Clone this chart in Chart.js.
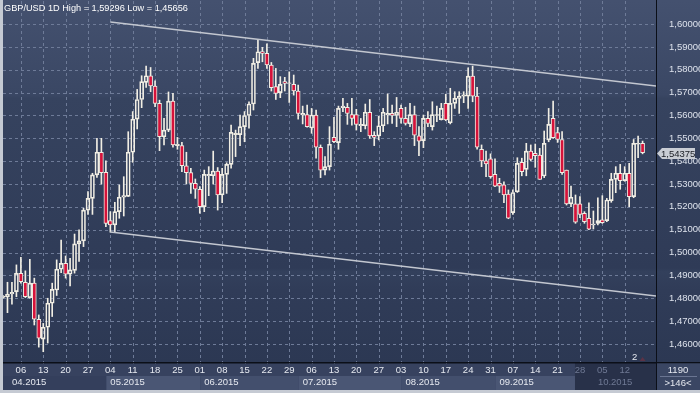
<!DOCTYPE html>
<html>
<head>
<meta charset="utf-8">
<script src="https://cdn.jsdelivr.net/npm/chart.js@4.4.1/dist/chart.umd.min.js"></script>
<style>
html, body { margin: 0; padding: 0; background: #c5cad3; }
canvas { display: block; }
</style>
</head>
<body>
<canvas id="fxChart" width="700" height="393"></canvas>
<script>
// GBP/USD daily candles, 31.03.2015 - 16.10.2015
const firstDay = '2015-03-31';
const open = [
  1.4804, 1.4807, 1.4819, 1.4829, 1.4909, 1.4870, 1.4803, 1.4866, 1.4708, 1.4621,
  1.4673, 1.4778, 1.4836, 1.4927, 1.4953, 1.4905, 1.4922, 1.5038, 1.5051, 1.5186,
  1.5237, 1.5340, 1.5439, 1.5351, 1.5140, 1.5121, 1.5179, 1.5242, 1.5246, 1.5439,
  1.5584, 1.5670, 1.5745, 1.5774, 1.5729, 1.5653, 1.5507, 1.5536, 1.5663, 1.5468,
  1.5468, 1.5380, 1.5350, 1.5303, 1.5277, 1.5201, 1.5336, 1.5336, 1.5357, 1.5252,
  1.5342, 1.5386, 1.5516, 1.5516, 1.5551, 1.5600, 1.5650, 1.5831, 1.5880, 1.5872,
  1.5821, 1.5726, 1.5700, 1.5748, 1.5740, 1.5736, 1.5707, 1.5602, 1.5604, 1.5545,
  1.5602, 1.5461, 1.5361, 1.5376, 1.5504, 1.5481, 1.5634, 1.5636, 1.5604, 1.5604,
  1.5555, 1.5555, 1.5614, 1.5513, 1.5510, 1.5555, 1.5602, 1.5609, 1.5600, 1.5631,
  1.5587, 1.5563, 1.5604, 1.5511, 1.5490, 1.5587, 1.5551, 1.5600, 1.5582, 1.5653,
  1.5568, 1.5653, 1.5675, 1.5685, 1.5685, 1.5772, 1.5685, 1.5452, 1.5401, 1.5410,
  1.5342, 1.5303, 1.5296, 1.5256, 1.5175, 1.5266, 1.5395, 1.5364, 1.5444, 1.5434,
  1.5427, 1.5335, 1.5493, 1.5587, 1.5525, 1.5495, 1.5361, 1.5213, 1.5213, 1.5213,
  1.5172, 1.5150, 1.5121, 1.5128, 1.5143, 1.5140, 1.5227, 1.5320, 1.5347, 1.5315,
  1.5347, 1.5245, 1.5474, 1.5478
];
const high = [
  1.4812, 1.4870, 1.4870, 1.4946, 1.4979, 1.4920, 1.4970, 1.4888, 1.4727, 1.4690,
  1.4800, 1.4866, 1.4968, 1.5055, 1.4985, 1.4975, 1.5081, 1.5099, 1.5194, 1.5267,
  1.5347, 1.5500, 1.5500, 1.5401, 1.5179, 1.5220, 1.5296, 1.5332, 1.5529, 1.5617,
  1.5714, 1.5774, 1.5816, 1.5810, 1.5752, 1.5667, 1.5587, 1.5703, 1.5697, 1.5504,
  1.5482, 1.5439, 1.5369, 1.5322, 1.5289, 1.5361, 1.5376, 1.5444, 1.5372, 1.5369,
  1.5393, 1.5558, 1.5536, 1.5602, 1.5617, 1.5660, 1.5850, 1.5930, 1.5898, 1.5913,
  1.5832, 1.5806, 1.5770, 1.5767, 1.5791, 1.5777, 1.5733, 1.5641, 1.5646, 1.5631,
  1.5624, 1.5471, 1.5420, 1.5551, 1.5592, 1.5641, 1.5675, 1.5653, 1.5675, 1.5627,
  1.5587, 1.5650, 1.5670, 1.5529, 1.5597, 1.5631, 1.5694, 1.5646, 1.5679, 1.5646,
  1.5636, 1.5653, 1.5641, 1.5551, 1.5602, 1.5617, 1.5660, 1.5641, 1.5653, 1.5693,
  1.5719, 1.5704, 1.5704, 1.5704, 1.5809, 1.5816, 1.5723, 1.5471, 1.5444, 1.5432,
  1.5410, 1.5325, 1.5310, 1.5274, 1.5274, 1.5415, 1.5413, 1.5478, 1.5471, 1.5475,
  1.5456, 1.5532, 1.5631, 1.5663, 1.5548, 1.5529, 1.5361, 1.5291, 1.5252, 1.5245,
  1.5179, 1.5218, 1.5182, 1.5240, 1.5249, 1.5237, 1.5347, 1.5376, 1.5386, 1.5376,
  1.5390, 1.5495, 1.5510, 1.5488
];
const low = [
  1.4800, 1.4737, 1.4774, 1.4807, 1.4866, 1.4803, 1.4800, 1.4683, 1.4586, 1.4566,
  1.4604, 1.4720, 1.4812, 1.4912, 1.4888, 1.4854, 1.4910, 1.4961, 1.5026, 1.5167,
  1.5167, 1.5329, 1.5300, 1.5113, 1.5089, 1.5089, 1.5150, 1.5160, 1.5245, 1.5395,
  1.5541, 1.5634, 1.5723, 1.5704, 1.5638, 1.5446, 1.5471, 1.5529, 1.5461, 1.5452,
  1.5354, 1.5300, 1.5259, 1.5237, 1.5172, 1.5179, 1.5249, 1.5300, 1.5186, 1.5218,
  1.5259, 1.5369, 1.5420, 1.5468, 1.5485, 1.5544, 1.5624, 1.5806, 1.5835, 1.5806,
  1.5707, 1.5670, 1.5678, 1.5707, 1.5657, 1.5689, 1.5584, 1.5563, 1.5549, 1.5522,
  1.5413, 1.5328, 1.5340, 1.5361, 1.5481, 1.5452, 1.5617, 1.5561, 1.5558, 1.5536,
  1.5529, 1.5541, 1.5500, 1.5468, 1.5493, 1.5529, 1.5563, 1.5565, 1.5551, 1.5566,
  1.5558, 1.5551, 1.5468, 1.5424, 1.5459, 1.5551, 1.5536, 1.5573, 1.5580, 1.5577,
  1.5563, 1.5631, 1.5609, 1.5656, 1.5631, 1.5660, 1.5452, 1.5376, 1.5332, 1.5325,
  1.5288, 1.5263, 1.5218, 1.5148, 1.5167, 1.5263, 1.5336, 1.5336, 1.5401, 1.5373,
  1.5320, 1.5328, 1.5485, 1.5500, 1.5482, 1.5342, 1.5208, 1.5201, 1.5128, 1.5153,
  1.5128, 1.5100, 1.5103, 1.5121, 1.5128, 1.5135, 1.5220, 1.5262, 1.5277, 1.5312,
  1.5201, 1.5240, 1.5415, 1.5432
];
const close = [
  1.4809, 1.4817, 1.4826, 1.4909, 1.4873, 1.4807, 1.4866, 1.4708, 1.4625, 1.4673,
  1.4778, 1.4839, 1.4927, 1.4953, 1.4905, 1.4924, 1.5038, 1.5051, 1.5186, 1.5237,
  1.5340, 1.5439, 1.5350, 1.5128, 1.5121, 1.5179, 1.5242, 1.5249, 1.5439, 1.5584,
  1.5670, 1.5748, 1.5774, 1.5729, 1.5653, 1.5507, 1.5536, 1.5663, 1.5471, 1.5474,
  1.5380, 1.5350, 1.5303, 1.5277, 1.5201, 1.5342, 1.5342, 1.5357, 1.5252, 1.5342,
  1.5386, 1.5526, 1.5522, 1.5551, 1.5600, 1.5650, 1.5828, 1.5879, 1.5872, 1.5821,
  1.5722, 1.5697, 1.5736, 1.5740, 1.5743, 1.5707, 1.5609, 1.5609, 1.5551, 1.5602,
  1.5461, 1.5361, 1.5376, 1.5474, 1.5485, 1.5631, 1.5641, 1.5609, 1.5587, 1.5561,
  1.5561, 1.5614, 1.5510, 1.5504, 1.5555, 1.5614, 1.5609, 1.5600, 1.5614, 1.5587,
  1.5565, 1.5604, 1.5514, 1.5488, 1.5587, 1.5565, 1.5604, 1.5604, 1.5631, 1.5580,
  1.5653, 1.5675, 1.5685, 1.5690, 1.5772, 1.5685, 1.5461, 1.5401, 1.5388, 1.5332,
  1.5291, 1.5291, 1.5252, 1.5150, 1.5263, 1.5390, 1.5354, 1.5444, 1.5408, 1.5424,
  1.5320, 1.5478, 1.5561, 1.5503, 1.5495, 1.5350, 1.5213, 1.5242, 1.5133, 1.5167,
  1.5135, 1.5102, 1.5125, 1.5140, 1.5131, 1.5230, 1.5320, 1.5347, 1.5315, 1.5347,
  1.5245, 1.5478, 1.5478, 1.54375
];

// 채널 추세선: [인덱스, 값]
const upperChannel = [[24, 1.6009], [146, 1.5729]];
const lowerChannel = [[24, 1.5090], [146, 1.4810]];

// y축 눈금
const yTicks = [1.46, 1.47, 1.48, 1.49, 1.50, 1.51, 1.52, 1.53, 1.54, 1.55, 1.56, 1.57, 1.58, 1.59, 1.60];

const titleText = 'GBP/USD 1D High = 1,59296 Low = 1,45656';
const barsInView = 146;
const cornerTop = '1190';
const markerText = '2';

// 거래일 목록 (주말 제외)
const days = [];
(function () {
    const d = new Date(firstDay + 'T00:00:00Z');
    while (days.length < close.length) {
        const wd = d.getUTCDay();
        if (wd !== 0 && wd !== 6) days.push(new Date(d));
        d.setUTCDate(d.getUTCDate() + 1);
    }
})();
const mondayIdx = [];
const monthStart = [];
days.forEach((d, i) => {
    if (d.getUTCDay() === 1) mondayIdx.push(i);
    if (i > 0 && d.getUTCMonth() !== days[i - 1].getUTCMonth()) monthStart.push(i);
});

const bodies = close.map((c, i) => ({ x: i, y: [open[i], c] }));
const upperWicks = close.map((c, i) => ({ x: i, y: [Math.max(open[i], c), high[i]] }));
const lowerWicks = close.map((c, i) => ({ x: i, y: [low[i], Math.min(open[i], c)] }));

const FONT = 'Liberation Sans, Arial, sans-serif';
const candleLine = '#f1eee4';
const downFill = '#d6123a';
const gridColor = '#6e7b98';

function fmt(v) { return v.toFixed(5).replace('.', ','); }
function pad2(n) { return String(n).padStart(2, '0'); }

// 점선 격자: 1px 사각형으로 직접 찍음 (스케일 좌표 사용)
function drawDashedGrid(chart) {
    const ctx = chart.ctx;
    const area = chart.chartArea;
    const xs = chart.scales.x, ys = chart.scales.y;
    ctx.save();
    ctx.fillStyle = gridColor;
    mondayIdx.forEach(i => {
        const x = Math.round(xs.getPixelForValue(i));
        for (let y = Math.ceil(area.top); y < area.bottom; y += 6) {
            ctx.fillRect(x, y, 1, 3);
        }
    });
    yTicks.forEach(v => {
        const y = Math.round(ys.getPixelForValue(v));
        for (let x = Math.ceil(area.left); x < area.right; x += 6) {
            ctx.fillRect(x, y, 3, 1);
        }
    });
    ctx.restore();
}

const backgroundPlugin = {
    id: 'terminalBackground',
    beforeDraw(chart) {
        const ctx = chart.ctx;
        const area = chart.chartArea;
        const W = chart.width, H = chart.height;
        ctx.save();
        // 창 테두리
        ctx.fillStyle = '#c5cad3';
        ctx.fillRect(0, 0, W, H);
        // 차트 + 오른쪽 축 배경
        const g = ctx.createLinearGradient(0, area.top, 0, area.bottom);
        g.addColorStop(0, '#44516f');
        g.addColorStop(0.26, '#3a4764');
        g.addColorStop(0.27, '#36435f');
        g.addColorStop(0.74, '#2f3b57');
        g.addColorStop(0.75, '#33405c');
        g.addColorStop(0.8, '#303c58');
        g.addColorStop(1, '#2c3853');
        ctx.fillStyle = g;
        ctx.fillRect(area.left, 0, W - area.left, area.bottom);
        // 아래 날짜 축
        ctx.fillStyle = '#37425f';
        ctx.fillRect(area.left, area.bottom, W - area.left, 14);
        ctx.fillStyle = '#343f5c';
        ctx.fillRect(area.left, area.bottom + 14, area.right - area.left, 14);
        ctx.restore();
    },
    beforeDatasetsDraw(chart) {
        drawDashedGrid(chart);
    },
    afterDraw(chart) {
        const ctx = chart.ctx;
        const area = chart.chartArea;
        const xs = chart.scales.x, ys = chart.scales.y;
        const W = chart.width;
        ctx.save();

        // 월 구간
        const rowY = area.bottom + 14;
        monthStart.forEach((idx, k) => {
            const x0 = xs.getPixelForValue(idx) + 0.5;
            const x1 = k + 1 < monthStart.length ? xs.getPixelForValue(monthStart[k + 1]) + 0.5 : area.right;
            if (k > 0) {
                ctx.fillStyle = k % 2 === 1 ? '#4a5674' : '#434f6d';
                ctx.fillRect(x0, rowY, x1 - x0, 14);
            }
        });
        // 어두운 구간
        const dimX = xs.getPixelForValue(128) - 0.5;
        ctx.fillStyle = '#283149';
        ctx.fillRect(dimX, area.bottom, area.right - dimX, 28);

        // 날짜 라벨
        ctx.font = '9.5px ' + FONT;
        ctx.textBaseline = 'middle';
        ctx.textAlign = 'center';
        mondayIdx.forEach(i => {
            const x = xs.getPixelForValue(i);
            ctx.fillStyle = x > dimX ? '#6f7994' : '#e6e9f0';
            ctx.fillText(pad2(days[i].getUTCDate()), x, area.bottom + 8.5);
        });
        ctx.textAlign = 'left';
        monthStart.forEach(i => {
            const x = xs.getPixelForValue(i) + 4.5;
            const d = days[i];
            ctx.fillStyle = x > dimX ? '#6f7994' : '#e6e9f0';
            ctx.fillText(pad2(d.getUTCMonth() + 1) + '.' + d.getUTCFullYear(), x, area.bottom + 20.5);
        });

        // 구분선
        ctx.strokeStyle = '#0b0f18';
        ctx.lineWidth = 1.5;
        ctx.beginPath();
        ctx.moveTo(area.left, area.bottom + 0.75);
        ctx.lineTo(W, area.bottom + 0.75);
        ctx.stroke();
        ctx.lineWidth = 1;
        ctx.beginPath();
        ctx.moveTo(area.right + 0.5, 0);
        ctx.lineTo(area.right + 0.5, area.bottom + 28);
        ctx.stroke();

        // 오른쪽 아래 박스
        ctx.fillStyle = '#3a4663';
        ctx.fillRect(area.right + 1, area.bottom + 1.5, W - area.right - 1, 26.5);
        ctx.strokeStyle = '#6a7592';
        ctx.beginPath();
        ctx.moveTo(area.right + 4, area.bottom + 14.5);
        ctx.lineTo(W - 3, area.bottom + 14.5);
        ctx.stroke();
        ctx.fillStyle = '#e6e9f0';
        ctx.textAlign = 'center';
        const cx = (area.right + W) / 2;
        ctx.fillText(cornerTop, cx, area.bottom + 8.5);
        ctx.fillText('>' + barsInView + '<', cx, area.bottom + 21);

        // 제목
        ctx.textAlign = 'left';
        ctx.textBaseline = 'alphabetic';
        ctx.font = '9.2px ' + FONT;
        ctx.fillStyle = '#ffffff';
        ctx.fillText(titleText, 4, 11);

        // 현재가 태그
        ctx.font = '9.5px ' + FONT;
        const last = close[close.length - 1];
        const py = Math.round(ys.getPixelForValue(last)) + 0.5;
        const tx = area.right + 1;
        ctx.fillStyle = '#c9cdd4';
        ctx.beginPath();
        ctx.moveTo(tx, py);
        ctx.lineTo(tx + 5, py - 5.5);
        ctx.lineTo(695, py - 5.5);
        ctx.lineTo(695, py + 5.5);
        ctx.lineTo(tx + 5, py + 5.5);
        ctx.closePath();
        ctx.fill();
        ctx.fillStyle = '#1a1d24';
        ctx.textBaseline = 'middle';
        ctx.fillText(fmt(last), tx + 4, py + 0.5);

        // 이벤트 표시
        ctx.fillStyle = '#e6e9f0';
        ctx.textAlign = 'center';
        ctx.fillText(markerText, xs.getPixelForValue(141.2), area.bottom - 5);
        const mx = xs.getPixelForValue(143);
        ctx.fillStyle = '#5b3346';
        ctx.beginPath();
        ctx.moveTo(mx - 3, area.bottom - 1);
        ctx.lineTo(mx + 3, area.bottom - 1);
        ctx.lineTo(mx, area.bottom - 5);
        ctx.closePath();
        ctx.fill();

        ctx.restore();
    }
};

const ctx = document.getElementById('fxChart').getContext('2d');
const fxChart = new Chart(ctx, {
    type: 'bar',
    data: {
        datasets: [
            {
                label: 'body',
                data: bodies,
                backgroundColor: c => (c.raw && c.raw.y[1] < c.raw.y[0]) ? downFill : 'rgba(0,0,0,0)',
                borderColor: candleLine,
                borderWidth: 1,
                borderSkipped: false,
                barThickness: 4,
                grouped: false,
                order: 1
            },
            {
                label: 'upper wick',
                data: upperWicks,
                backgroundColor: candleLine,
                borderWidth: 0,
                barThickness: 1,
                grouped: false,
                order: 2
            },
            {
                label: 'lower wick',
                data: lowerWicks,
                backgroundColor: candleLine,
                borderWidth: 0,
                barThickness: 1,
                grouped: false,
                order: 2
            },
            {
                type: 'line',
                label: 'upper channel',
                data: upperChannel.map(p => ({ x: p[0], y: p[1] })),
                borderColor: '#c3c7d0',
                borderWidth: 1.5,
                pointRadius: 0,
                order: 0
            },
            {
                type: 'line',
                label: 'lower channel',
                data: lowerChannel.map(p => ({ x: p[0], y: p[1] })),
                borderColor: '#c3c7d0',
                borderWidth: 1.5,
                pointRadius: 0,
                order: 0
            }
        ]
    },
    options: {
        responsive: false,
        animation: false,
        devicePixelRatio: 1,
        layout: { padding: { left: 3, top: 1, right: 0, bottom: 3 } },
        plugins: {
            legend: { display: false },
            tooltip: { enabled: false }
        },
        scales: {
            x: {
                type: 'linear',
                offset: false,
                min: 0,
                max: barsInView,
                afterBuildTicks: axis => { axis.ticks = mondayIdx.map(v => ({ value: v })); },
                afterFit: axis => {
                    axis.height = 28;
                    axis.paddingLeft = 0;
                    axis.paddingRight = 0;
                },
                ticks: { display: false },
                grid: { display: false, offset: false },
                border: { display: false }
            },
            y: {
                type: 'linear',
                position: 'right',
                min: 1.4521,
                max: 1.6101,
                afterBuildTicks: axis => { axis.ticks = yTicks.map(v => ({ value: v })); },
                afterFit: axis => {
                    axis.width = 44;
                    axis.paddingTop = 0;
                    axis.paddingBottom = 0;
                },
                ticks: {
                    color: '#dde2ec',
                    font: { family: FONT, size: 9.5 },
                    padding: 5,
                    callback: v => fmt(v)
                },
                grid: { display: false },
                border: { display: false }
            }
        }
    },
    plugins: [backgroundPlugin]
});
</script>
</body>
</html>
